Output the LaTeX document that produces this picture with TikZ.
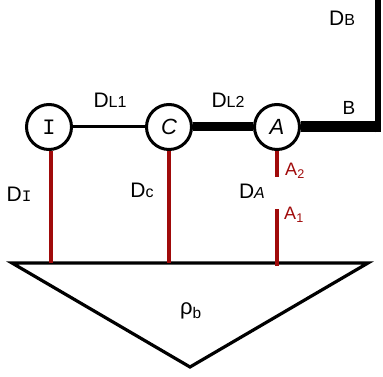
\documentclass[tikz,border=0pt]{standalone}
\usepackage{fontspec}
\setmainfont{Liberation Sans}
\newfontfamily\monofam{Liberation Mono}
\usetikzlibrary{positioning, calc}
\definecolor{dkred}{HTML}{A00A0A}
\definecolor{inkblk}{HTML}{000000}

\begin{document}
\begin{tikzpicture}[x=1pt, y=-1pt,
    site/.style={draw=inkblk, circle, line width=3pt, fill=white,
                 minimum size=45pt, inner sep=0pt, font=\fontsize{22}{22}\selectfont},
    lbl/.style={font=\fontsize{21}{21}\selectfont, text=inkblk},
    redlbl/.style={font=\fontsize{18}{18}\selectfont, text=dkred},
    leg/.style={dkred, line width=4pt}]

% Frame
\useasboundingbox (0,0) rectangle (383,377);

% Bath (triangle)
\coordinate (tl) at (12,263);
\coordinate (tr) at (368,263);
\coordinate (tb) at (190,367);
\draw[inkblk, line width=3.2pt, line join=miter] (tl) -- (tr) -- (tb) -- cycle;
\node[font=\fontsize{22}{22}\selectfont] (rho) at (191,311) {ρ\textsubscript{b}};

% Sites
\node[site] (I) at (49,127) {\monofam I};
\node[site] (C) at (169,127) {\itshape C};
\node[site] (A) at (277,127) {\itshape A};

% Right lead
\coordinate (bend) at (377.5,127);
\coordinate (top) at (377.5,0);

% Couplings to the bath
\draw[leg] ([xshift=2pt]I.south) -- ([xshift=2pt]I.south |- tl);
\draw[leg] (C.south) -- (C.south |- tl);
\coordinate (a2) at (277,177);
\coordinate (a1) at (277,209);
\draw[leg] (A.south) -- (a2);
\draw[leg] (a1) -- ($(A.south |- tl)+(0,3)$);

% Chain links
\draw[inkblk, line width=3pt] (I.east) -- (C.west);
\draw[inkblk, line width=9pt] (C.east) -- (A.west);
\draw[inkblk, line width=11pt] (A.east) -- ($(bend)+(3,0)$);
\draw[inkblk, line width=6pt] ($(bend)+(0,5.5)$) -- (top);

% Labels
\node[lbl] (dl1) at (110,100) {D{\fontsize{16}{16}\selectfont L1}};
\node[lbl] (dl2) at (228,100) {D{\fontsize{16}{16}\selectfont L2}};
\node[lbl] (db) at (342,18) {D{\fontsize{16}{16}\selectfont B}};
\node[lbl, font=\fontsize{19}{19}\selectfont] (b) at (349,108) {B};
\node[lbl] (di) at (19,194) {D{\fontsize{16}{16}\selectfont\monofam I}};
\node[lbl] (dc) at (142,190) {D{\fontsize{16}{16}\selectfont c}};
\node[lbl] (da) at (252,191) {D{\fontsize{16}{16}\selectfont\itshape A}};
\node[redlbl] (la2) at (295,171) {A\textsubscript{2}};
\node[redlbl] (la1) at (294,215) {A\textsubscript{1}};

\end{tikzpicture}
\end{document}
